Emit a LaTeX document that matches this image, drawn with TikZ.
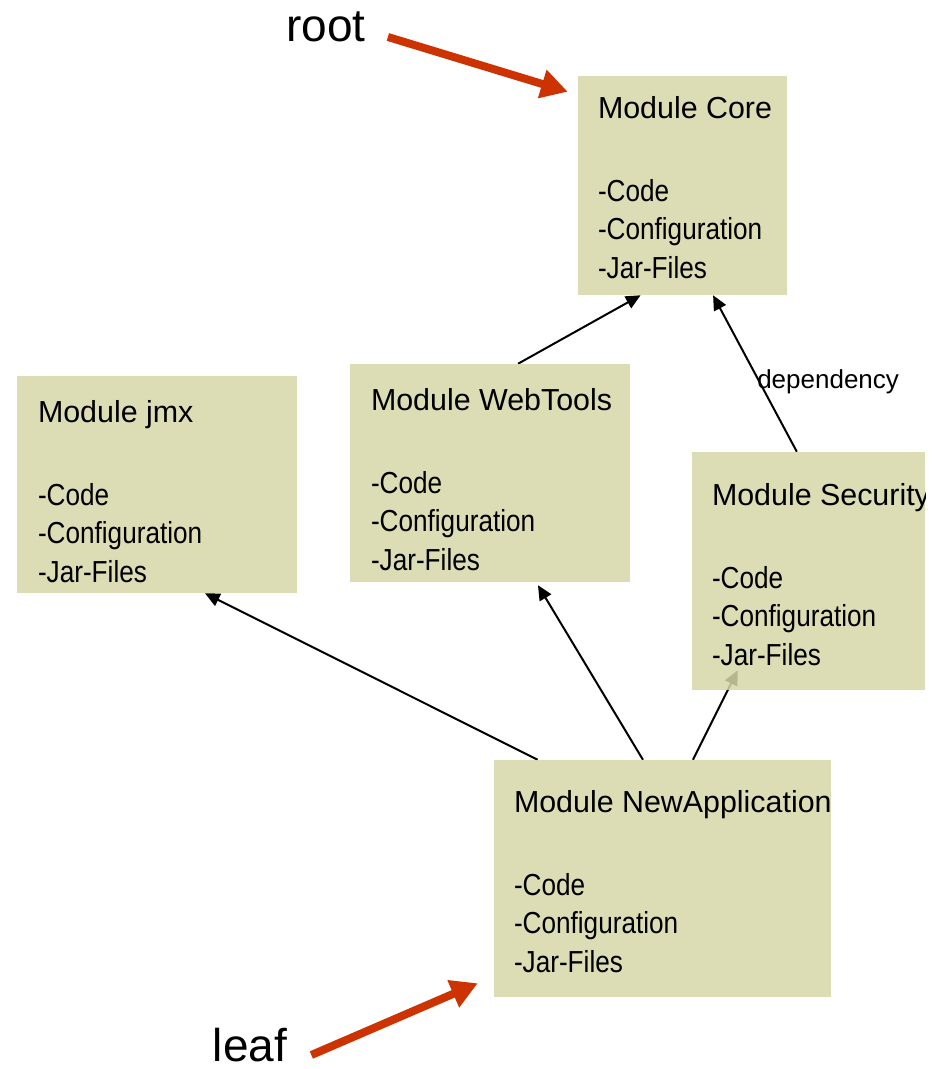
\documentclass[tikz,border=0pt]{standalone}
\usepackage{fontspec}
\setmainfont{Liberation Sans}
\newfontfamily\narrowfont[FakeStretch=0.86]{Liberation Sans}
\usetikzlibrary{positioning,calc,arrows.meta,backgrounds}
\definecolor{modfill}{RGB}{214,214,168}
\definecolor{hintred}{RGB}{204,51,0}
\newcommand{\modtitle}[1]{{\rmfamily #1}}

\begin{document}
\begin{tikzpicture}[x=0.75pt, y=-0.75pt,
    module/.style={rectangle, fill=modfill, fill opacity=0.85, inner sep=0pt},
    % text block of a module box: title, gap, three items
    modtext/.style={anchor=north west, inner sep=0pt, align=left,
      font=\fontsize{22.8}{28.9}\narrowfont},
    dep/.style={line width=1.5pt, -{Triangle[length=11pt, width=10pt]}},
    hint/.style={line width=6pt, draw=hintred, -{Triangle[length=20pt, width=21pt]}},
    hintlabel/.style={inner sep=0pt, font=\fontsize{34.5}{40}\selectfont}
  ]
    \useasboundingbox (0,0) rectangle (941,1069);

    %--- Module boxes (pixel positions of the slide) ---
    \node[module, minimum width=156.75pt, minimum height=164.25pt] (core) at (682.5,185.5) {};
    \node[module, minimum width=210pt, minimum height=162.75pt] (jmx) at (157,484.5) {};
    \node[module, minimum width=210pt, minimum height=163.5pt] (webtools) at (490,473) {};
    \node[module, minimum width=174.75pt, minimum height=178.5pt] (security) at (808.5,571) {};
    \node[module, minimum width=252.75pt, minimum height=177.75pt] (newapp) at (662.5,878.5) {};

    %--- Box contents
    \node[modtext, xshift=15pt, yshift=-15pt] (coreText) at (core.north west)
      {\modtitle{Module Core}\\[33.4pt]-Code\\-Configuration\\-Jar-Files};
    \node[modtext, xshift=15.75pt, yshift=-18pt] (jmxText) at (jmx.north west)
      {\modtitle{Module jmx}\\[33.4pt]-Code\\-Configuration\\-Jar-Files};
    \node[modtext, xshift=15.75pt, yshift=-18pt] (webtoolsText) at (webtools.north west)
      {\modtitle{Module WebTools}\\[33.4pt]-Code\\-Configuration\\-Jar-Files};
    \begin{scope}
      % the slide cuts the title off at the box edge
      \clip (security.north west) rectangle (security.south east);
      \node[modtext, xshift=15pt, yshift=-23.25pt] (securityText) at (security.north west)
        {\modtitle{Module Security}\\[33.4pt]-Code\\-Configuration\\-Jar-Files};
    \end{scope}
    \node[modtext, xshift=15pt, yshift=-22.5pt] (newappText) at (newapp.north west)
      {\modtitle{Module NewApplication}\\[33.4pt]-Code\\-Configuration\\-Jar-Files};

    %--- Dependencies (under the boxes)
    \begin{scope}[on background layer]
      \draw[dep] ($(webtools.north west)!0.6!(webtools.north east)$)
        -- ($(core.south west)!0.3!(core.south east)$);
      \draw[dep] ($(security.north west)!0.45!(security.north east)$)
        -- node[pos=0.45, right, xshift=-5.5pt, font=\fontsize{19.5}{22}\selectfont] (deplabel) {dependency}
        ($(core.south west)!0.646!(core.south east)$);
      \draw[dep] ($(newapp.north west)!0.13!(newapp.north east)$)
        -- ($(jmx.south west)!0.671!(jmx.south east)$);
      \draw[dep] ($(newapp.north west)!0.442!(newapp.north east)$)
        -- ($(webtools.south west)!0.671!(webtools.south east)+(0,3)$);
      \draw[dep] ($(newapp.north west)!0.59!(newapp.north east)$)
        -- ($(security.south west)!0.197!(security.south east)+(0,-20)$);
    \end{scope}

    %--- root / leaf hints
    \node[hintlabel] (root) at (326,27) {root};
    \node[hintlabel] (leaf) at (250,1045) {leaf};
    \draw[hint] ($(root.east)+(22,10)$) -- ($(core.north west)+(-10,16)$);
    \draw[hint] ($(leaf.east)+(24,10)$) -- ($(newapp.south west)+(-16,-14)$);
  \end{tikzpicture}
\end{document}
